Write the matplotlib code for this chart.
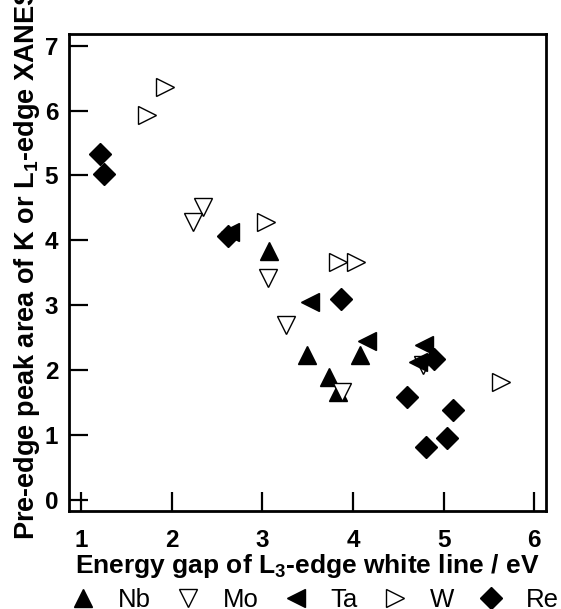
import matplotlib
matplotlib.use("Agg")
import matplotlib.pyplot as plt

plt.rcParams['font.family'] = ['Liberation Sans', 'DejaVu Sans']
plt.rcParams['mathtext.fontset'] = 'custom'
plt.rcParams['mathtext.rm'] = 'Liberation Sans'
plt.rcParams['mathtext.bf'] = 'Liberation Sans:bold'

# Energy gap (eV) and pre-edge peak area for each element
nb_x = [3.07, 3.49, 4.08, 3.74, 3.83]
nb_y = [3.83, 2.24, 2.23, 1.89, 1.67]

mo_x = [2.35, 2.24, 3.06, 3.26, 3.88, 4.77]
mo_y = [4.51, 4.29, 3.42, 2.69, 1.67, 2.08]

ta_x = [2.64, 3.53, 4.16, 4.78, 4.72]
ta_y = [4.13, 3.05, 2.45, 2.39, 2.13]

w_x = [1.93, 1.73, 3.04, 3.84, 4.03, 5.63]
w_y = [6.37, 5.93, 4.29, 3.67, 3.67, 1.82]

re_x = [1.21, 1.25, 2.62, 3.87, 4.90, 4.60, 5.10, 5.04, 4.81]
re_y = [5.33, 5.02, 4.07, 3.10, 2.17, 1.58, 1.39, 0.95, 0.82]

x_ticks = [1, 2, 3, 4, 5, 6]
y_ticks = [0, 1, 2, 3, 4, 5, 6, 7]

fig = plt.figure(figsize=(5.61, 6.09), dpi=100)
ax = fig.add_axes([0.1235, 0.1609, 0.8497, 0.7833])

ax.plot(nb_x, nb_y, '^', ms=13, color='black', mec='black', label='Nb')
ax.plot(mo_x, mo_y, 'v', ms=13, mfc='white', mec='black', mew=1.0, label='Mo')
ax.plot(ta_x, ta_y, '<', ms=13, color='black', mec='black', label='Ta')
ax.plot(w_x, w_y, '>', ms=13, mfc='white', mec='black', mew=1.0, label='W')
ax.plot(re_x, re_y, 'D', ms=11.5, color='black', mec='black', label='Re')

ax.set_xlim(0.87, 6.13)
ax.set_ylim(-0.17, 7.18)
ax.set_xticks(x_ticks)
ax.set_yticks(y_ticks)
ax.tick_params(direction='in', length=14, width=1.6, labelsize=17.5)
ax.tick_params(axis='x', pad=13)
ax.tick_params(axis='y', pad=8)
for lab in ax.get_xticklabels() + ax.get_yticklabels():
    lab.set_fontweight('bold')
for sp in ax.spines.values():
    sp.set_linewidth(2)

ax.set_xlabel(r'Energy gap of L$_\mathbf{3}$-edge white line / eV',
              fontsize=19, fontweight='bold', labelpad=0)
ax.set_ylabel(r'Pre-edge peak area of K or L$_\mathbf{1}$-edge XANES',
              fontsize=19.5, fontweight='bold', ha='left', va='center')
ax.yaxis.set_label_coords(-0.0887, -0.061)

fig.legend(loc='center', bbox_to_anchor=(0.561, 9 / 609), ncol=5,
           frameon=False, fontsize=18.5, handlelength=1.0,
           handletextpad=0.85, columnspacing=0.95, borderpad=0, borderaxespad=0)

fig.savefig('out.png', dpi=100)
